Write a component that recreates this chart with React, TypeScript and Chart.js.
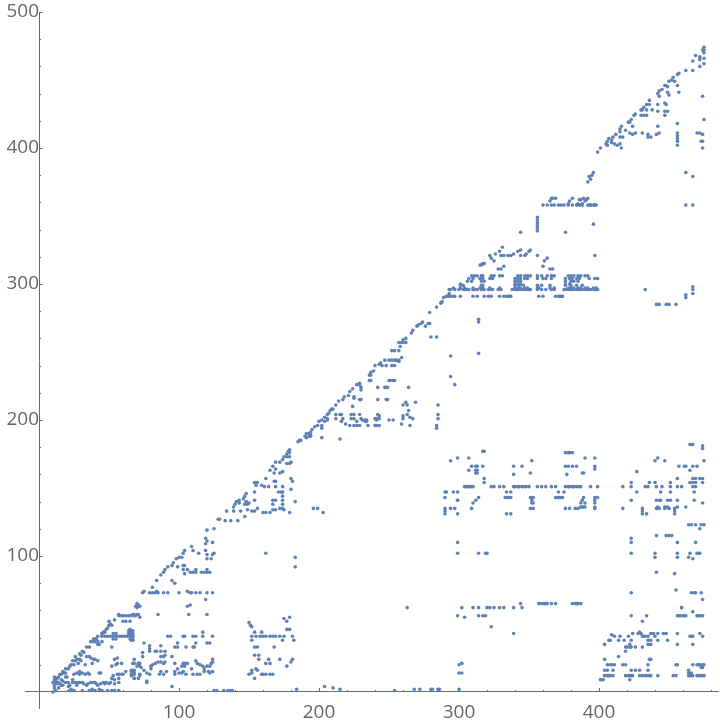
import React, { useEffect, useRef } from "react";
import { Chart, registerables } from "chart.js";

Chart.register(...registerables);

const xLabelTicks = [100, 200, 300, 400];
const yLabelTicks = [100, 200, 300, 400, 500];
const xMinorTicks = [20, 40, 60, 80, 120, 140, 160, 180, 220, 240, 260, 280, 320, 340, 360, 380, 420, 440, 460, 480];
const yMinorTicks = [20, 40, 60, 80, 120, 140, 160, 180, 220, 240, 260, 280, 320, 340, 360, 380, 420, 440, 460, 480];

type Row = [number, number[]];
type P = [number, number];

// horizontal bands: [y, xs]
const lowerLeftRows: Row[] = [
  [56, [58, 60, 61, 63, 65, 66, 68, 70]],
  [52, [51, 61, 63, 66]],
  [45, [65, 66, 67, 68]],
  [43, [46, 54, 56, 65, 68]],
  [41, [46, 48, 50, 52, 54, 56, 58, 60, 62, 64, 66, 68]],
  [39, [40, 42, 54, 56, 66, 68]],
  [37, [41, 43, 46]],
  [35, [43, 44]],
  [14, [28, 32, 36, 44, 45]],
  [13, [26, 30, 34, 37, 57, 58]],
  [7, [11, 13, 15, 20, 25, 30, 32, 38, 41, 47, 49, 58]],
  [5, [12, 18, 23, 28, 35, 43]],
  [1, [13, 23, 26, 32, 37, 41, 46, 50, 53, 55, 58]],
];
const lowerLeftPoints: P[] = [
  [11, 0], [12, 3], [15, 3], [24, 2], [39, 2], [44, 2], [51, 6], [55, 6], [25, 9], [55, 9], [58, 10], [12, 11], [20, 11], [21, 11], [20, 14], [30, 15],
  [16, 13], [18, 15], [20, 17], [23, 19], [25, 23], [28, 24], [30, 28], [32, 30], [35, 33], [38, 37], [42, 39], [46, 43], [48, 44], [50, 47], [53, 49], [55, 53], [58, 57],
  [13, 10], [15, 11], [17, 13], [19, 14], [22, 17], [24, 20], [27, 23], [31, 27], [33, 29], [37, 33], [40, 37], [41, 39], [43, 41], [47, 44], [49, 46], [51, 49], [52, 50],
  [26, 20], [29, 21], [37, 26], [40, 24], [43, 23], [53, 33], [57, 25], [55, 24], [57, 21], [60, 21], [53, 19], [56, 20], [63, 15], [67, 16], [68, 15], [69, 14], [67, 12], [73, 12], [69, 10], [72, 10], [68, 21], [72, 21], [73, 19], [71, 19], [71, 62], [72, 64], [73, 63],
  [14, 10], [13, 8], [12, 9], [17, 9], [18, 8], [14, 6], [16, 6], [17, 5], [22, 7], [22, 4], [27, 7], [29, 7], [33, 6], [36, 6], [40, 7], [42, 6], [45, 6], [48, 6], [52, 7], [53, 10], [54, 12], [60, 13], [61, 13], [35, 26], [38, 25], [41, 24], [27, 26], [30, 24], [31, 23], [34, 20], [39, 21],
];
const block100Points: P[] = [
  [75, 73], [76, 74], [80, 73], [82, 73], [84, 73], [85, 74], [86, 73], [90, 73], [93, 73], [101, 73], [107, 74], [109, 73], [110, 73], [113, 73], [116, 73], [121, 73], [125, 73],
  [82, 77], [120, 68], [109, 64], [107, 63], [108, 57], [86, 57], [121, 57], [71, 65], [70, 63], [72, 63], [68, 57], [69, 57], [71, 57], [72, 57], [73, 55],
  [93, 41], [95, 41], [104, 41], [105, 41], [111, 41], [113, 41], [118, 44], [118, 41], [125, 41], [66, 46], [67, 44], [68, 43], [66, 42], [67, 41], [68, 41], [67, 38], [68, 38],
  [76, 36], [80, 34], [80, 32], [80, 30], [84, 30], [85, 30], [88, 34], [88, 30], [91, 30], [91, 27], [88, 26], [90, 26], [75, 29], [75, 26], [96, 26], [98, 33], [100, 33], [100, 36], [106, 33], [111, 33], [112, 33], [113, 36], [121, 36], [123, 36],
  [69, 24], [69, 21], [72, 21], [73, 21], [74, 18], [76, 16], [68, 16], [67, 15], [69, 16], [67, 13], [69, 13], [73, 13], [78, 14], [80, 13], [69, 10], [78, 8], [78, 7],
  [81, 19], [82, 20], [81, 17], [84, 21], [86, 22], [88, 22], [91, 22], [90, 21], [104, 21], [105, 21], [107, 21], [98, 21], [100, 17], [103, 19], [105, 19], [110, 17], [113, 23], [114, 21], [116, 20], [118, 19], [119, 17], [121, 19], [123, 19], [124, 21], [125, 24], [125, 22],
  [88, 15], [90, 13], [87, 13], [92, 15], [98, 15], [101, 14], [103, 14], [98, 13], [104, 15], [106, 13], [111, 13], [114, 13], [116, 13], [119, 15], [122, 15], [123, 14], [125, 15],
  [96, 4], [126, 1], [128, 1], [133, 1], [136, 1], [138, 1], [139, 1], [185, 2],
  [121, 119], [126, 120], [120, 113], [121, 111], [120, 109], [125, 110], [120, 104], [126, 102], [125, 101], [121, 101], [124, 98], [121, 98], [110, 107], [111, 104], [115, 102], [105, 104], [104, 102], [103, 99], [101, 99], [99, 98], [97, 95], [96, 93], [93, 92], [91, 90], [90, 88], [88, 86], [85, 82], [100, 92], [104, 93], [105, 93], [104, 90], [105, 87], [107, 90], [109, 88], [111, 88], [113, 90], [113, 88], [117, 88], [119, 88], [121, 90], [121, 88], [123, 88], [96, 82], [98, 80],
];
const block170Points: P[] = [
  [186, 184], [180, 178], [179, 177], [178, 175], [176, 173], [180, 176], [180, 173], [178, 173], [181, 169], [180, 168], [178, 168], [175, 171], [173, 169], [170, 169], [168, 166], [166, 163], [170, 164], [169, 161], [173, 161], [175, 162], [163, 157], [170, 155], [169, 155], [157, 154], [155, 154], [156, 152], [160, 152], [162, 151], [165, 151], [170, 151], [175, 151], [181, 157], [182, 155], [181, 149],
  [155, 147], [149, 146], [148, 144], [149, 140], [155, 141], [147, 142], [144, 141], [142, 140], [141, 138], [144, 139], [148, 138], [150, 138], [151, 139], [140, 136], [140, 133], [145, 133], [148, 129], [150, 134], [153, 133], [155, 133], [157, 135], [161, 132], [163, 132], [166, 132], [168, 134], [170, 134], [173, 135], [175, 135], [176, 134], [180, 132], [172, 147], [174, 147], [175, 147], [175, 144], [175, 141], [168, 141], [170, 141], [175, 138], [184, 140], [168, 138], [135, 133], [129, 127], [130, 127], [134, 126], [138, 126], [143, 126], [184, 99], [184, 92], [163, 102],
  [151, 51], [152, 49], [153, 48], [155, 44], [156, 41], [159, 41], [160, 44], [161, 41], [163, 41], [166, 41], [168, 41], [170, 41], [173, 41], [175, 38], [176, 41], [178, 46], [180, 46], [182, 41], [183, 38], [153, 41], [153, 38], [155, 33], [157, 33], [169, 33], [176, 54], [178, 52], [180, 55], [155, 27], [158, 27], [158, 24], [165, 24], [163, 21], [166, 21], [173, 24], [182, 24], [181, 22], [178, 19], [156, 17], [153, 16], [157, 16], [151, 13], [153, 14], [155, 10], [160, 13], [161, 13], [163, 13], [166, 13], [168, 13],
];
const block220Points: P[] = [
  [187, 185], [188, 185], [191, 188], [192, 190], [195, 191], [196, 193], [198, 195], [200, 196], [201, 199], [203, 200], [205, 202], [207, 204], [211, 208], [192, 187], [194, 188], [195, 188], [194, 190], [195, 189], [203, 187], [216, 186], [197, 135], [200, 135], [204, 132],
  [210, 208], [209, 207], [208, 205], [207, 201], [213, 204], [213, 201], [217, 204], [218, 201], [216, 204], [224, 204], [226, 204], [224, 201], [226, 201], [230, 204], [231, 201], [232, 200], [234, 200], [235, 200], [234, 199], [235, 199], [241, 201], [242, 201], [243, 204], [244, 201], [242, 200], [244, 203], [251, 200], [254, 200], [261, 203], [261, 201], [264, 204], [266, 202], [268, 201],
  [220, 197], [223, 196], [226, 196], [228, 196], [230, 196], [236, 196], [241, 196], [242, 196], [244, 196], [260, 197], [266, 196], [217, 199], [228, 199], [205, 199], [207, 200], [203, 196], [203, 194],
  [230, 227], [228, 226], [225, 223], [223, 221], [222, 218], [219, 217], [218, 215], [215, 214], [213, 211], [230, 226], [231, 224], [231, 222], [226, 217], [226, 216], [230, 215], [231, 215], [243, 224], [249, 224], [248, 224], [250, 224], [265, 224], [243, 215], [249, 215], [250, 215], [225, 210], [270, 213], [263, 213], [261, 211], [264, 211], [265, 207], [286, 211], [286, 204], [286, 201], [285, 196], [285, 194],
  [263, 260], [261, 259], [258, 257], [260, 257], [261, 257], [263, 257], [259, 254], [258, 251], [253, 251], [255, 251], [260, 246], [258, 244], [253, 244], [255, 244], [256, 244], [258, 243], [251, 244], [248, 244], [245, 242], [246, 240], [249, 240], [253, 240], [255, 240], [244, 241], [241, 240], [240, 236], [238, 235], [237, 233], [238, 233], [237, 229], [238, 229], [251, 229], [252, 229], [254, 229], [255, 229],
  [289, 287], [288, 286], [285, 283], [280, 279], [279, 271], [280, 271], [275, 272], [274, 271], [272, 270], [271, 269], [277, 269], [268, 266], [267, 264], [281, 261], [285, 261], [295, 247], [295, 232], [298, 226], [315, 274], [315, 272], [315, 249], [264, 62],
  [205, 4], [211, 3], [216, 2], [255, 1], [269, 2], [273, 2], [281, 2], [282, 2], [286, 2], [287, 2], [301, 2],
];
const upperBandRows: Row[] = [
  [358, [361, 364, 367, 369, 372, 374, 376, 379, 382, 385, 387, 389, 393, 395, 398, 399, 463, 468]],
  [321, [323, 331, 333, 336, 338, 345, 348, 357, 398]],
  [306, [310, 312, 314, 317, 318, 324, 326, 330, 332, 343, 345, 348, 350, 352, 357, 360, 364, 367, 369, 379, 381, 383, 386, 388, 391, 393]],
  [304, [308, 311, 316, 318, 323, 325, 341, 343, 345, 348, 350, 357, 361, 363, 367, 377, 380, 382, 385, 387, 394, 398, 400]],
  [302, [307, 310, 317, 319, 341, 343, 345, 377, 381, 383, 386]],
  [300, [302, 341, 343, 345, 377, 380]],
  [299, [302, 304, 317, 318, 341, 344, 347, 357, 360, 366, 377, 381, 385, 389]],
  [297, [297, 302, 305, 311, 316, 318, 323, 330, 341, 343, 345, 348, 350, 357, 358, 366, 369, 379, 381, 383, 386, 388, 391, 393, 397, 399]],
  [296, [294, 295, 298, 301, 304, 305, 306, 307, 308, 311, 312, 314, 317, 319, 322, 324, 325, 329, 331, 339, 341, 342, 343, 344, 345, 347, 348, 349, 350, 351, 352, 357, 360, 363, 367, 369, 376, 377, 379, 380, 381, 382, 383, 385, 386, 387, 388, 389, 391, 392, 393, 394, 395, 397, 398, 399, 400]],
  [291, [292, 293, 294, 295, 297, 298, 302, 311, 314, 319, 322, 324, 330, 333, 335, 336, 337, 338, 358, 361, 370, 372, 373, 374, 375]],
];
const upperBandPoints: P[] = [
  [366, 361], [367, 363], [368, 363], [370, 363], [379, 359], [380, 361], [382, 363], [386, 359], [388, 362], [390, 363], [393, 363],
  [357, 349], [357, 347], [357, 345], [357, 343], [357, 341], [357, 339], [345, 338], [377, 338], [397, 344], [324, 319], [326, 317], [327, 322], [330, 324], [332, 327], [340, 322], [343, 324], [345, 325], [349, 322], [351, 324], [352, 325], [362, 317], [364, 319], [316, 314], [317, 314], [318, 315], [319, 315],
  [368, 311], [366, 311], [361, 313], [329, 311], [331, 311], [333, 313], [288, 286], [290, 290], [294, 293], [292, 291], [434, 296], [442, 285], [444, 285], [449, 285], [451, 285], [456, 285], [463, 290], [463, 292], [468, 293], [468, 296], [468, 298],
];
const lowerRightRows: Row[] = [
  [176, [377, 379, 380, 382]],
  [166, [310, 313, 314, 318, 340, 346, 377, 379, 382, 385, 398, 458, 462, 463, 468, 471]],
  [157, [319, 457, 468, 470, 473, 475]],
  [154, [319, 424, 437, 441, 452, 466, 468, 470, 475]],
  [151, [305, 306, 307, 308, 309, 310, 311, 324, 326, 330, 333, 340, 341, 343, 344, 346, 347, 349, 351, 357, 360, 363, 367, 370, 377, 379, 380, 382, 383, 385, 387, 388, 395, 400, 418, 424, 434, 436, 442, 446, 452, 457, 460, 468, 470]],
  [147, [291, 292, 297, 300, 335, 338, 372, 376, 428, 445, 452, 469]],
  [143, [291, 315, 334, 335, 336, 337, 338, 352, 354, 370, 371, 372, 373, 374, 375, 390, 398, 400]],
  [141, [300, 313, 353, 389, 398, 424, 442, 444, 445, 450, 452, 457, 469]],
  [136, [388, 389, 390, 391, 398, 443, 448, 450, 457, 463]],
  [135, [291, 295, 298, 310, 352, 354, 377, 380, 384, 386, 398, 418, 432, 442, 444, 448, 451, 455]],
  [123, [465, 467, 470, 474, 476]],
  [102, [300, 315, 320, 321, 424, 441, 457, 466, 471, 472, 473]],
  [65, [345, 358, 359, 361, 362, 363, 364, 367, 370, 382, 384, 385, 386, 388]],
  [62, [303, 311, 315, 321, 323, 326, 330, 333, 340, 346, 460]],
  [56, [300, 315, 318, 320, 424, 435, 457, 458, 459, 461, 462, 463, 471, 472, 473, 475]],
  [20, [407, 409, 410, 412, 418, 420, 436, 456, 457, 468, 471, 472, 473, 475, 476]],
  [16, [405, 407, 411, 424, 427, 430, 436, 465]],
  [12, [405, 407, 408, 409, 411, 420, 422, 423, 424, 425, 430, 432, 434, 435, 437, 438, 443, 454, 456, 465, 466, 467, 468, 471, 472, 473, 474, 475, 476]],
];
const lowerRightPoints: P[] = [
  [466, 182], [467, 182], [468, 182], [475, 181], [475, 179], [318, 177], [319, 177], [300, 172], [308, 172], [391, 172], [398, 172], [443, 172], [295, 170], [353, 170], [441, 170], [448, 170], [476, 170],
  [398, 164], [308, 163], [313, 163], [314, 163], [466, 163], [313, 161], [314, 161], [352, 161], [389, 161], [390, 161], [428, 162], [340, 160], [378, 160],
  [300, 141], [311, 139], [353, 139], [354, 139], [388, 139], [391, 139], [398, 139], [475, 139], [291, 133], [432, 133], [455, 133], [291, 131], [300, 131], [335, 131], [338, 131], [432, 131], [435, 131], [455, 131],
  [473, 120], [442, 115], [449, 115], [451, 115], [453, 115], [424, 113], [424, 110], [300, 110], [457, 110], [470, 110], [441, 99], [457, 99], [465, 99], [468, 98], [442, 88], [455, 87], [456, 75], [424, 73], [467, 73], [469, 73], [470, 73], [474, 73], [475, 68],
  [460, 62], [468, 59], [305, 55], [432, 52], [324, 48], [340, 43], [301, 20], [303, 21], [303, 14], [301, 14],
  [430, 44], [425, 43], [429, 43], [431, 43], [438, 43], [440, 43], [443, 43], [447, 43], [449, 43], [457, 43], [473, 43], [410, 42], [412, 41], [416, 41], [422, 41], [432, 41], [433, 41], [434, 41], [436, 41], [441, 41], [466, 41], [467, 41], [468, 41], [475, 41],
  [408, 38], [409, 38], [415, 38], [419, 38], [424, 38], [436, 38], [438, 38], [443, 38], [450, 38], [405, 35], [423, 35], [436, 35], [438, 35], [457, 35], [468, 35], [420, 33], [421, 33], [423, 33], [424, 33], [427, 33], [432, 33], [420, 30], [415, 26], [405, 24], [437, 24], [438, 24], [474, 18], [475, 18], [465, 14], [467, 14], [402, 9], [403, 9], [404, 9], [423, 9],
];
const upperRightPoints: P[] = [
  [476, 474], [476, 472], [476, 470], [475, 472], [470, 468], [473, 467], [476, 466], [473, 465], [476, 462], [473, 460], [468, 464], [463, 457], [468, 457],
  [458, 455], [457, 454], [454, 452], [453, 450], [451, 449], [455, 449], [457, 446], [449, 446], [448, 446], [446, 443], [444, 442], [443, 440], [444, 438], [450, 445], [450, 441], [451, 439], [458, 441], [475, 438],
  [437, 435], [437, 432], [435, 432], [433, 430], [431, 428], [432, 428], [435, 428], [439, 428], [443, 432], [443, 427], [448, 433], [449, 432], [448, 427], [450, 427], [448, 424], [431, 424], [433, 424], [435, 424],
  [427, 425], [426, 424], [424, 421], [423, 419], [422, 419], [417, 416], [416, 414], [413, 410], [420, 413], [425, 416], [443, 416], [457, 418], [476, 421],
  [423, 411], [425, 410], [427, 411], [432, 411], [436, 410], [436, 408], [438, 408], [442, 410], [444, 411], [457, 411], [457, 409], [457, 407], [457, 405], [457, 402], [471, 411], [473, 411], [475, 410], [474, 405], [475, 405], [475, 400],
  [416, 412], [416, 408], [418, 408], [411, 408], [410, 406], [408, 407], [407, 405], [406, 403], [407, 402], [410, 404], [412, 403], [414, 402], [416, 403], [417, 400], [402, 400], [400, 397], [463, 382], [468, 379],
  [397, 382], [396, 380], [394, 379], [393, 375], [395, 377], [392, 362], [391, 361], [389, 359], [387, 362], [387, 358], [394, 358], [395, 358], [397, 358], [398, 358],
];

const allRows: Row[] = [...lowerLeftRows, ...upperBandRows, ...lowerRightRows];
const allPoints: P[] = [...lowerLeftPoints, ...block100Points, ...block170Points, ...block220Points, ...upperBandPoints, ...lowerRightPoints, ...upperRightPoints];
// x values above were read against a frame 1 unit to the right of the drawn axis
const scatter = [
  ...allPoints.map(([x, y]) => ({ x: x - 1, y })),
  ...allRows.flatMap(([y, xs]) => xs.map((x) => ({ x: x - 1, y }))),
];

const AXIS = "#6b6b6b";
const minorTicksPlugin = {
  id: "minorTicks",
  afterDatasetsDraw(chart: any) {
    const { ctx, scales } = chart;
    const x0 = scales.x.getPixelForValue(0);
    const y0 = scales.y.getPixelForValue(0);
    ctx.save();
    ctx.strokeStyle = AXIS;
    ctx.lineWidth = 1;
    ctx.beginPath();
    const xt = (v: number, len: number) => {
      const p = Math.round(scales.x.getPixelForValue(v)) + 0.5;
      ctx.moveTo(p, y0);
      ctx.lineTo(p, y0 - len);
    };
    const yt = (v: number, len: number) => {
      const p = Math.round(scales.y.getPixelForValue(v)) + 0.5;
      ctx.moveTo(x0, p);
      ctx.lineTo(x0 + len, p);
    };
    xMinorTicks.forEach((v) => xt(v, 2));
    xLabelTicks.forEach((v) => xt(v, 4));
    yMinorTicks.forEach((v) => yt(v, 2));
    yLabelTicks.forEach((v) => yt(v, 4));
    ctx.stroke();
    ctx.restore();
  },
};

const clearScalePadding = (scale: any) => {
  scale.paddingTop = 0;
  scale.paddingBottom = 0;
  scale.paddingLeft = 0;
  scale.paddingRight = 0;
};

export default function App() {
  const ref = useRef<HTMLCanvasElement>(null);
  useEffect(() => {
    document.body.style.margin = "0";
    const font = { family: "'Open Sans', sans-serif", size: 19 };
    const chart = new Chart(ref.current!, {
      type: "scatter",
      data: {
        datasets: [
          {
            data: scatter,
            pointRadius: 1.8,
            pointBorderWidth: 0,
            backgroundColor: "#5E81B5",
            borderColor: "#5E81B5",
          },
        ],
      },
      plugins: [minorTicksPlugin],
      options: {
        animation: false,
        responsive: false,
        layout: { autoPadding: false, padding: { left: 25, right: 2, top: 12, bottom: 15.7 } },
        plugins: { legend: { display: false }, tooltip: { enabled: false } },
        scales: {
          x: {
            type: "linear",
            min: -10,
            max: 485,
            position: { y: 0 },
            afterBuildTicks: (axis: any) => {
              axis.ticks = xLabelTicks.map((value) => ({ value }));
            },
            afterFit: clearScalePadding,
            grid: { display: false, drawTicks: false },
            border: { display: true, color: AXIS, width: 1 },
            ticks: { font, color: "#666666", padding: 9, maxRotation: 0, autoSkip: false, callback: (v: any) => String(v) },
          },
          y: {
            type: "linear",
            min: -12,
            max: 500,
            position: { x: 0 },
            afterBuildTicks: (axis: any) => {
              axis.ticks = yLabelTicks.map((value) => ({ value }));
            },
            afterFit: clearScalePadding,
            grid: { display: false, drawTicks: false },
            border: { display: true, color: AXIS, width: 1 },
            ticks: { font, color: "#666666", padding: 6, autoSkip: false, callback: (v: any) => String(v) },
          },
        },
      },
    } as any);
    return () => chart.destroy();
  }, []);
  return <canvas ref={ref} width={720} height={724} style={{ display: "block" }} />;
}
